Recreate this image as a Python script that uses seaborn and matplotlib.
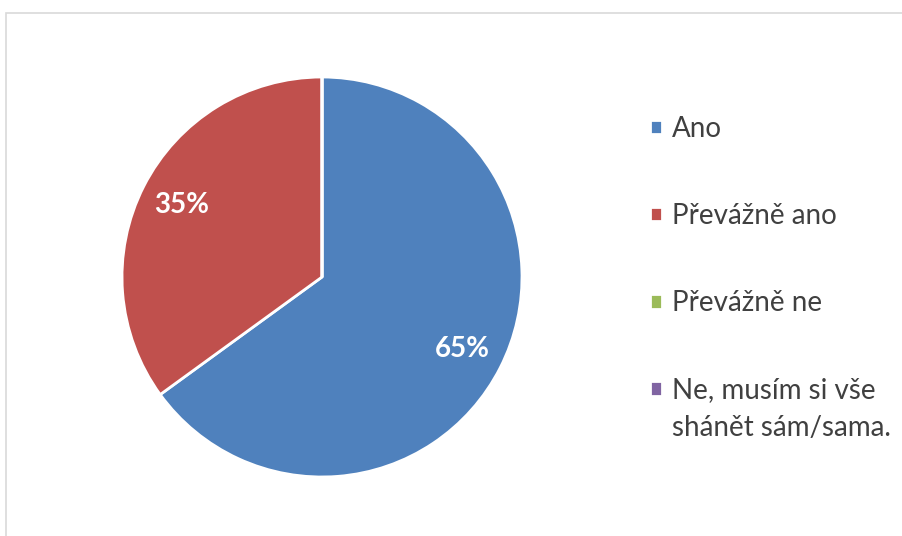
import matplotlib
matplotlib.use("Agg")
import matplotlib.pyplot as plt
import matplotlib.patches as mpatches
import seaborn as sns

# Survey answers and their shares (%)
categories = ["Ano", "Převážně ano", "Převážně ne", "Ne, musím si vše"]
last_label_tail = "shánět sám/sama."
shares = [65, 35, 0, 0]
colors = ["#4F81BD", "#C0504D", "#9BBB59", "#8064A2"]

sns.set_theme(style="white")
plt.rcParams["font.family"] = ["Lato", "DejaVu Sans"]

fig = plt.figure(figsize=(9.03, 5.36), dpi=100)
fig.patch.set_facecolor("white")

# light chart frame
fig.patches.append(mpatches.Rectangle((6 / 903, -0.1), 1.2, (536 - 13) / 536 + 0.1,
                                      transform=fig.transFigure, fill=False,
                                      edgecolor="#D9D9D9", linewidth=1.2, zorder=0))

ax = fig.add_axes([122 / 903, 59 / 536, 400 / 903, 400 / 536])

def pct_label(p):
    return f"{p:.0f}%" if p > 0.5 else ""

wedges, texts, autotexts = ax.pie(
    shares, colors=colors, startangle=90, counterclock=False,
    autopct=pct_label, pctdistance=0.79, radius=1.0,
    wedgeprops=dict(edgecolor="white", linewidth=2),
    textprops=dict(color="white", fontsize=20, fontweight="bold"),
)
ax.set_xlim(-1.0, 1.0)
ax.set_ylim(-1.0, 1.0)
ax.set_aspect("equal")
ax.axis("off")

leg = fig.legend(wedges, categories, loc="upper left",
                 bbox_to_anchor=(650 / 903, 1 - 116 / 536),
                 frameon=False, fontsize=20, handlelength=0.43, handleheight=0.43,
                 handletextpad=0.36, labelspacing=2.2, borderpad=0, borderaxespad=0)
for t in leg.get_texts():
    t.set_color("#404040")

# second line of the last legend entry, under its first line
fig.canvas.draw()
last = leg.get_texts()[-1]
bb = last.get_window_extent()
fig.text(bb.x0 / fig.bbox.width, (bb.y0 - 38) / fig.bbox.height, last_label_tail,
         fontsize=20, color="#404040", ha="left", va="bottom")

fig.savefig("out.png", dpi=100, facecolor="white")
